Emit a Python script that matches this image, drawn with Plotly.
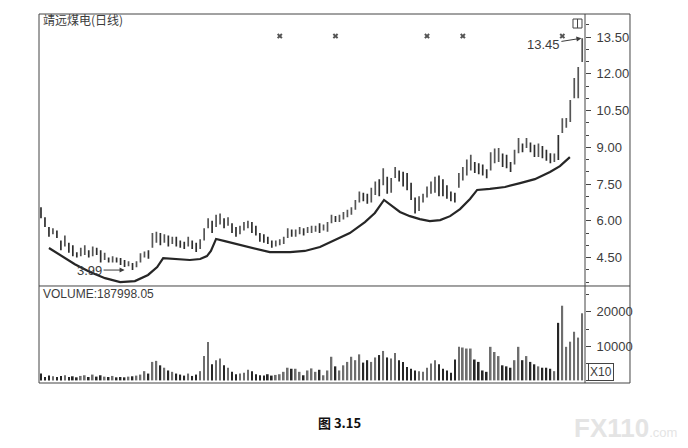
import plotly.graph_objects as go

# daily bars of 靖远煤电, one entry per trading day
opens = [6.48, 6.08, 5.68, 5.50, 5.54, 5.13, 5.02, 5.04, 4.93, 4.67,
         4.61, 4.67, 4.74, 4.62, 4.84, 4.72, 4.46, 4.45, 4.35, 4.45,
         4.42, 4.34, 4.20, 4.22, 4.15, 4.36, 4.55, 4.73, 4.97, 5.17,
         5.43, 5.16, 5.33, 5.11, 5.28, 5.14, 5.09, 5.02, 5.14, 5.03,
         4.92, 5.27, 5.77, 5.93, 5.82, 5.92, 6.03, 5.86, 5.83, 5.68,
         5.51, 5.66, 5.76, 5.88, 5.73, 5.44, 5.39, 5.29, 5.14, 5.00,
         5.05, 5.11, 5.37, 5.59, 5.41, 5.51, 5.64, 5.55, 5.56, 5.60,
         5.83, 5.65, 5.62, 5.96, 6.15, 6.01, 6.11, 6.21, 6.31, 6.52,
         6.82, 7.08, 7.03, 6.83, 7.13, 7.61, 7.54, 7.71, 7.23, 7.82,
         7.98, 7.92, 7.86, 7.46, 6.86, 6.48, 6.81, 7.02, 7.17, 7.24,
         7.75, 7.61, 7.37, 7.13, 7.08, 7.43, 7.72, 7.94, 8.14, 8.33,
         8.28, 8.23, 8.04, 8.14, 8.43, 8.48, 8.67, 8.62, 8.34, 8.38,
         8.84, 9.09, 9.03, 9.14, 9.03, 8.67, 8.98, 8.84, 8.70, 8.45,
         9.40, 9.66, 9.86, 10.10, 11.08, 11.10, 12.55]
highs = [6.55, 6.15, 5.75, 5.70, 5.60, 5.20, 5.40, 5.10, 5.00, 4.72,
         4.90, 5.00, 4.80, 4.95, 4.90, 4.80, 4.70, 4.50, 4.55, 4.50,
         4.48, 4.40, 4.35, 4.28, 4.35, 4.68, 4.75, 4.80, 5.50, 5.55,
         5.50, 5.45, 5.40, 5.35, 5.35, 5.20, 5.15, 5.35, 5.20, 5.10,
         5.25, 5.70, 6.10, 6.00, 6.25, 6.30, 6.10, 6.15, 5.90, 5.75,
         5.80, 5.95, 6.00, 5.95, 5.80, 5.50, 5.45, 5.35, 5.20, 5.20,
         5.25, 5.35, 5.70, 5.65, 5.65, 5.75, 5.70, 5.75, 5.80, 5.80,
         5.90, 5.85, 5.95, 6.25, 6.20, 6.25, 6.36, 6.45, 6.55, 6.85,
         7.20, 7.15, 7.10, 7.35, 7.60, 7.70, 8.15, 7.80, 7.75, 8.20,
         8.05, 8.00, 7.95, 7.55, 6.95, 7.00, 7.10, 7.40, 7.60, 7.80,
         7.85, 7.70, 7.45, 7.20, 7.15, 7.95, 8.20, 8.50, 8.70, 8.40,
         8.35, 8.30, 8.10, 8.80, 8.95, 8.97, 8.75, 8.70, 8.40, 8.90,
         9.38, 9.15, 9.38, 9.20, 9.10, 9.15, 9.05, 8.90, 8.76, 8.75,
         9.50, 10.19, 10.20, 10.93, 11.83, 12.28, 13.45]
lows = [6.10, 5.75, 5.35, 5.45, 5.30, 4.80, 4.95, 4.70, 4.55, 4.50,
        4.55, 4.60, 4.50, 4.55, 4.60, 4.30, 4.40, 4.30, 4.30, 4.30,
        4.20, 4.12, 4.15, 3.99, 4.10, 4.30, 4.50, 4.45, 4.90, 5.10,
        5.00, 5.10, 4.95, 5.05, 4.95, 4.90, 4.85, 4.95, 4.85, 4.73,
        4.85, 5.20, 5.70, 5.50, 5.75, 5.85, 5.70, 5.80, 5.50, 5.35,
        5.45, 5.60, 5.70, 5.50, 5.40, 5.15, 5.10, 5.05, 4.90, 4.95,
        5.00, 5.05, 5.30, 5.35, 5.35, 5.45, 5.40, 5.50, 5.50, 5.55,
        5.50, 5.60, 5.55, 5.90, 5.95, 5.95, 6.05, 6.15, 6.25, 6.45,
        6.75, 6.80, 6.70, 6.75, 7.05, 7.00, 7.45, 7.10, 7.15, 7.75,
        7.60, 7.40, 7.25, 6.85, 6.30, 6.40, 6.75, 6.95, 7.10, 7.15,
        7.00, 7.00, 6.90, 6.80, 6.75, 7.35, 7.65, 7.85, 8.05, 7.95,
        7.90, 7.85, 7.74, 8.05, 8.35, 8.40, 8.20, 8.15, 7.99, 8.30,
        8.76, 8.80, 8.97, 8.80, 8.60, 8.60, 8.55, 8.45, 8.35, 8.40,
        8.48, 9.58, 9.80, 10.03, 11.00, 11.00, 12.48]
closes = [6.17, 5.82, 5.42, 5.64, 5.36, 4.87, 5.33, 4.77, 4.62, 4.55,
          4.84, 4.93, 4.56, 4.88, 4.66, 4.37, 4.64, 4.35, 4.50, 4.35,
          4.26, 4.18, 4.30, 4.05, 4.30, 4.61, 4.70, 4.52, 5.42, 5.48,
          5.07, 5.39, 5.02, 5.29, 5.02, 4.96, 4.91, 5.28, 4.91, 4.80,
          5.18, 5.62, 6.03, 5.57, 6.18, 6.23, 5.77, 6.09, 5.57, 5.42,
          5.74, 5.89, 5.94, 5.57, 5.47, 5.21, 5.16, 5.11, 4.96, 5.15,
          5.20, 5.29, 5.63, 5.41, 5.59, 5.69, 5.46, 5.70, 5.74, 5.75,
          5.57, 5.80, 5.88, 6.19, 6.00, 6.19, 6.30, 6.39, 6.49, 6.78,
          7.13, 6.87, 6.77, 7.27, 7.52, 7.09, 8.06, 7.19, 7.67, 8.13,
          7.67, 7.48, 7.34, 6.94, 6.39, 6.92, 7.04, 7.33, 7.53, 7.71,
          7.10, 7.09, 6.98, 6.87, 6.82, 7.87, 8.13, 8.41, 8.61, 8.02,
          7.97, 7.92, 7.80, 8.70, 8.87, 8.89, 8.28, 8.23, 8.05, 8.82,
          9.30, 8.86, 9.32, 8.86, 8.67, 9.08, 8.62, 8.51, 8.41, 8.70,
          8.95, 10.11, 10.14, 10.85, 11.75, 12.18, 13.38]
volumes = [2000, 1000, 1400, 1200, 1000, 1300, 1500, 1000, 1200, 900,
           1300, 1500, 1000, 1700, 1100, 1500, 1100, 1000, 1300, 900,
           1000, 900, 1100, 1200, 1400, 1700, 2700, 2000, 5400, 5700,
           4400, 3700, 2900, 2500, 2000, 1700, 1400, 2000, 1300, 1700,
           2700, 7100, 11200, 4700, 5900, 6400, 4400, 3700, 2500, 1800,
           2000, 2200, 3100, 2700, 1800, 1500, 1400, 1800, 1400, 1600,
           1800, 2500, 3700, 3400, 3400, 2500, 1500, 2900, 3500, 2500,
           3100, 1500, 2900, 6900, 4100, 2900, 4400, 5400, 6900, 5900,
           7600, 5200, 5900, 5400, 6700, 7400, 8600, 6700, 6400, 8000,
           5900, 5400, 3900, 3400, 2900, 2700, 2500, 3700, 4900, 5900,
           4700, 3400, 2900, 2200, 6100, 9800, 9600, 9300, 9300, 6100,
           5400, 2900, 2500, 9800, 8300, 7100, 4400, 4100, 3700, 5900,
           9800, 5900, 7100, 5400, 4700, 4100, 3700, 3700, 3400, 2700,
           16800, 21800, 9800, 11300, 14200, 12500, 19600]

# hand-drawn bowl line under the bars: (day, price)
arc_days = [2.0, 4.8, 8.5, 12.3, 16.1, 19.9, 23.6, 26.9, 29.2, 30.7,
            33.7, 37.4, 40.0, 41.7, 42.7, 43.5, 44.0,
            46.2, 50.0, 53.8, 57.5, 62.6, 66.3, 70.1, 73.9, 77.6, 81.4, 83.9, 86.2,
            88.2, 90.2, 92.7, 95.2, 97.7, 100.3, 102.8, 105.3, 107.8, 109.6,
            112.8, 116.6, 120.4, 124.1, 127.9, 130.4, 132.9]
arc_prices = [4.89, 4.60, 4.23, 3.91, 3.66, 3.50, 3.54, 3.79, 4.11, 4.48,
              4.44, 4.40, 4.44, 4.56, 4.77, 5.05, 5.26,
              5.17, 5.01, 4.85, 4.72, 4.72, 4.77, 4.93, 5.21, 5.50, 5.95, 6.32, 6.85,
              6.60, 6.36, 6.19, 6.07, 5.99, 6.03, 6.19, 6.48, 6.89, 7.26,
              7.30, 7.38, 7.54, 7.70, 7.99, 8.23, 8.60]

# little info marks along the top of the price panel
mark_days = [60, 74, 97, 106, 131]
mark_level = 13.54

price_ticks = [4.5, 6.0, 7.5, 9.0, 10.5, 12.0, 13.5]
volume_ticks = [10000, 20000]
low_day, low_price = 23, 3.99
high_day, high_price = 136, 13.45

INK = '#3c3c3c'
FRAME = '#444444'
NUM_FONT = 'Liberation Sans, Arial, sans-serif'
CJK_FONT = 'Noto Sans CJK SC, sans-serif'
PANEL_SPLIT = 0.2629   # paper y of the price/volume divider

days = list(range(len(closes)))
vol_colors = ['#262626' if c < o else '#6e6e6e' for o, c in zip(opens, closes)]

fig = go.Figure()
# thin bars: at this scale the book's candles read as slim vertical strokes
fig.add_ohlc(x=days, open=opens, high=highs, low=lows, close=closes,
             increasing=dict(line=dict(color='#555555', width=1.7)),
             decreasing=dict(line=dict(color='#2e2e2e', width=1.7)),
             tickwidth=0.12, showlegend=False, hoverinfo='skip')
fig.add_scatter(x=arc_days, y=arc_prices, mode='lines',
                line=dict(color='#262626', width=2.2), showlegend=False, hoverinfo='skip')
fig.add_scatter(x=mark_days, y=[mark_level] * len(mark_days), mode='markers',
                marker=dict(symbol='x', size=5, color='#555555'),
                showlegend=False, hoverinfo='skip')
fig.add_bar(x=days, y=volumes, yaxis='y2', marker=dict(color=vol_colors, line=dict(width=0)),
            width=0.42, showlegend=False, hoverinfo='skip')

axis_common = dict(side='right', anchor='x', showgrid=False, zeroline=False, showline=False,
                   ticks='outside', ticklen=5, tickwidth=1, tickcolor=FRAME, ticklabelstandoff=3,
                   tickfont=dict(family=NUM_FONT, size=13, color=INK))

# the page body has an 8px margin, so the figure is 8px smaller than the window
fig.update_layout(
    width=680, height=440,
    margin=dict(l=31, r=103, t=6, b=65),
    paper_bgcolor='white', plot_bgcolor='white',
    bargap=0.5,
    xaxis=dict(range=[-0.5, 136.7], anchor='y2', showticklabels=False, showgrid=False,
               zeroline=False, showline=False, ticks='', rangeslider=dict(visible=False)),
    yaxis=dict(domain=[PANEL_SPLIT, 1], range=[3.34, 14.44], tickvals=price_ticks,
               tickformat='.2f',
               minor=dict(ticks='outside', ticklen=3, tickcolor=FRAME, dtick=0.5),
               **axis_common),
    yaxis2=dict(domain=[0, PANEL_SPLIT], range=[-760, 27560], tickvals=volume_ticks,
                tickformat='d',
                minor=dict(ticks='outside', ticklen=3, tickcolor=FRAME, dtick=5000),
                **axis_common),
)

# frame: outer box, axis divider, panel divider, toolbar icon
frame_line = dict(color=FRAME, width=1)
fig.add_shape(type='rect', xref='paper', yref='paper', x0=0, x1=1.0824, y0=0, y1=1, line=frame_line)
fig.add_shape(type='line', xref='paper', yref='paper', x0=1, x1=1, y0=0, y1=1, line=frame_line)
fig.add_shape(type='line', xref='paper', yref='paper', x0=0, x1=1.0824,
              y0=PANEL_SPLIT, y1=PANEL_SPLIT, line=frame_line)
fig.add_shape(type='rect', xref='paper', yref='paper', x0=0.978, x1=0.9945, y0=0.962, y1=0.9864,
              line=dict(color=FRAME, width=1))
fig.add_shape(type='line', xref='paper', yref='paper', x0=0.9863, x1=0.9863, y0=0.962, y1=0.9864,
              line=dict(color=FRAME, width=1))

fig.add_annotation(text='靖远煤电(日线)', xref='paper', yref='paper', x=0.003, y=0.984,
                   xanchor='left', yanchor='middle', showarrow=False,
                   font=dict(family=CJK_FONT, size=12, color=INK))
fig.add_annotation(text='VOLUME:187998.05', xref='paper', yref='paper', x=0.003, y=0.241,
                   xanchor='left', yanchor='middle', showarrow=False,
                   font=dict(family=NUM_FONT, size=12, color=INK))
fig.add_annotation(text='X10', xref='paper', yref='paper', x=1.0055, y=0.03,
                   xanchor='left', yanchor='middle', showarrow=False,
                   bordercolor=FRAME, borderwidth=1, borderpad=1,
                   font=dict(family=NUM_FONT, size=12, color=INK))

# price extremes with arrows
fig.add_annotation(text=f'{low_price:.2f}', x=low_day - 2, y=low_price, ax=-35, ay=0,
                   showarrow=True, arrowhead=2, arrowsize=1, arrowwidth=1, arrowcolor=INK,
                   font=dict(family=NUM_FONT, size=13, color=INK))
fig.add_annotation(text=f'{high_price:.2f}', x=high_day - 0.2, y=high_price, ax=-38, ay=6,
                   showarrow=True, arrowhead=2, arrowsize=1, arrowwidth=1, arrowcolor=INK,
                   font=dict(family=NUM_FONT, size=13, color=INK))

# caption and watermark below the chart
fig.add_annotation(text='<b>图 3.15</b>', xref='paper', yref='paper', x=0.551, y=-0.106,
                   xanchor='center', yanchor='middle', showarrow=False,
                   font=dict(family=CJK_FONT, size=13, color='#111111'))
fig.add_annotation(text="<b>FX110</b><span style='font-size:13px'>.com</span>",
                   xref='paper', yref='paper', x=0.976, y=-0.122,
                   xanchor='left', yanchor='middle', showarrow=False,
                   font=dict(family=NUM_FONT, size=26, color='#e4e4e4'))

fig.write_html("out.html")
